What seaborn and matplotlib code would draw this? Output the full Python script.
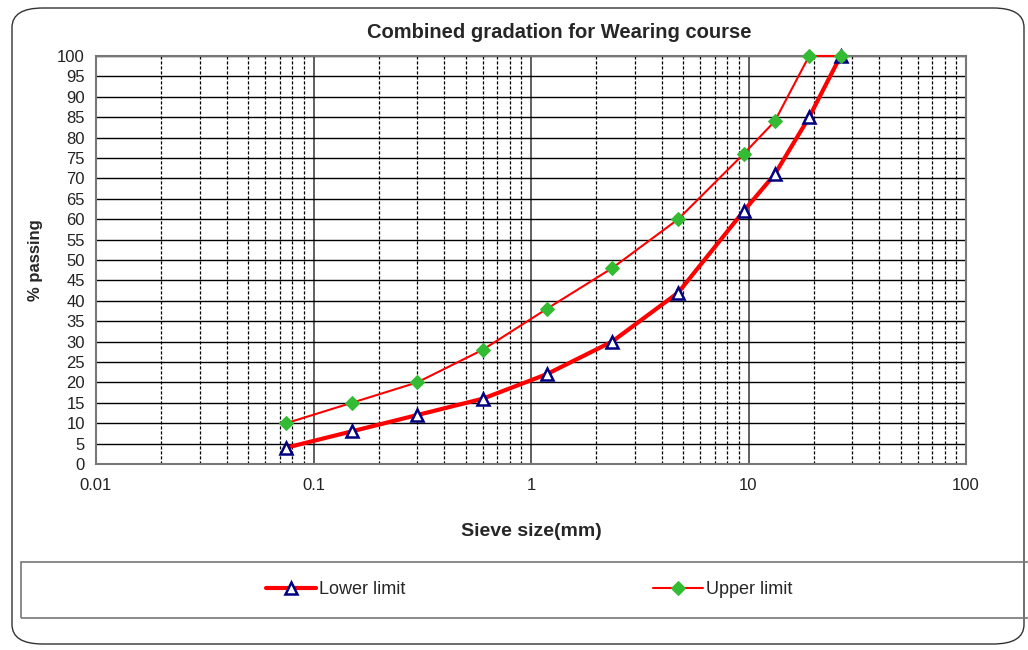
import numpy as np
import pandas as pd
import matplotlib
matplotlib.use("Agg")
import matplotlib.pyplot as plt
import seaborn as sns
from matplotlib.patches import FancyBboxPatch, Rectangle
from matplotlib.ticker import LogLocator, FixedLocator, NullFormatter

sieve = [0.075, 0.15, 0.3, 0.6, 1.18, 2.36, 4.75, 9.5, 13.2, 19, 26.5]
lower = [4, 8, 12, 16, 22, 30, 42, 62, 71, 85, 100]
upper = [10, 15, 20, 28, 38, 48, 60, 76, 84, 100, 100]
series_names = ["Lower limit", "Upper limit"]
yticks = list(range(0, 101, 5))
xticks = [0.01, 0.1, 1, 10, 100]
xticklabels = ["0.01", "0.1", "1", "10", "100"]

df = pd.DataFrame({
    "sieve": sieve * 2,
    "passing": lower + upper,
    "series": [series_names[0]] * len(sieve) + [series_names[1]] * len(sieve),
})

sns.set_style("white")
plt.rcParams["font.family"] = ["Liberation Sans", "DejaVu Sans"]

fig = plt.figure(figsize=(10.28, 6.5), dpi=100)
ax = fig.add_axes([96/1028, 1-464/650, (966-96)/1028, (464-56)/650])

# outer rounded frame
fig.patches.append(FancyBboxPatch((12/1028, 6/650), (1024-12)/1028, (642-6)/650,
                                  boxstyle="round,pad=0,rounding_size=0.03",
                                  transform=fig.transFigure, fill=False,
                                  edgecolor="#333333", linewidth=1.0, zorder=0))
# legend box
fig.patches.append(Rectangle((21/1028, 1-618/650), (1030-21)/1028, (618-562)/650,
                             transform=fig.transFigure, fill=False,
                             edgecolor="#777777", linewidth=1.2))

sub_l = df[df.series == series_names[0]]
sub_u = df[df.series == series_names[1]]
sns.lineplot(data=sub_l, x="sieve", y="passing", ax=ax, color="#ff0000", linewidth=3.0,
             marker="^", markersize=8, markerfacecolor="white", markeredgecolor="#000080",
             markeredgewidth=1.8, label=series_names[0], zorder=5, clip_on=False)
sns.lineplot(data=sub_u, x="sieve", y="passing", ax=ax, color="#ff0000", linewidth=1.5,
             marker="D", markersize=7.5, markerfacecolor="#33bb33", markeredgecolor="#33bb33",
             label=series_names[1], zorder=6, clip_on=False)

ax.set_xscale("log")
ax.set_xlim(0.01, 100)
ax.set_ylim(0, 100)
ax.set_yticks(yticks)
ax.xaxis.set_major_locator(FixedLocator(xticks))
ax.set_xticklabels(xticklabels)
ax.xaxis.set_minor_locator(LogLocator(base=10, subs=np.arange(2, 10)))
ax.xaxis.set_minor_formatter(NullFormatter())

ax.grid(True, which="major", axis="y", color="black", linewidth=1.0, linestyle="-")
ax.grid(True, which="major", axis="x", color="#444444", linewidth=1.2, linestyle="-")
ax.grid(True, which="minor", axis="x", color="black", linewidth=0.9, linestyle=(0, (2.5, 1.5)))
ax.set_axisbelow(True)

for s in ax.spines.values():
    s.set_color("#777777")
    s.set_linewidth(1.5)

ax.tick_params(axis="both", which="major", labelsize=12, labelcolor="#222222",
               length=5, color="#444444", direction="out", width=1)
ax.tick_params(axis="x", which="minor", length=0)
ax.tick_params(axis="x", pad=5)
ax.tick_params(axis="y", pad=3)

ax.set_title("Combined gradation for Wearing course", fontsize=14.5, fontweight="bold",
             pad=13, x=(559-96)/870)
ax.set_xlabel("Sieve size(mm)", fontsize=14, fontweight="bold", labelpad=22)
ax.set_ylabel("% passing", fontsize=12, fontweight="bold", labelpad=10)

handles, labels = ax.get_legend_handles_labels()
ax.get_legend().remove()
fig.legend(handles, labels, loc="center", bbox_to_anchor=(529/1028, 1-590/650), ncol=2,
           frameon=False, fontsize=13, columnspacing=13.7, handlelength=2.8, handletextpad=0.15)

fig.savefig("out.png", dpi=100)
